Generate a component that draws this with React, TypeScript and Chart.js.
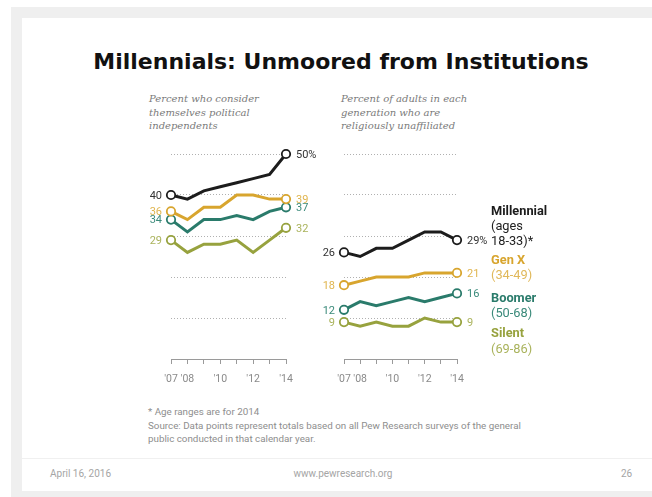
import React, { useEffect, useRef } from "react";
import { Chart, registerables } from "chart.js";

Chart.register(...registerables);

// ---------- data ----------
const YEAR_LABELS = ["'07", "'08", "", "'10", "", "'12", "", "'14"];
const SERIES_NAMES = ["Millennial", "Gen X", "Boomer", "Silent"];

// Percent who consider themselves political independents
const independentsMillennial = [40, 39, 41, 42, 43, 44, 45, 50];
const independentsGenX = [36, 34, 37, 37, 40, 40, 39, 39];
const independentsBoomer = [34, 31, 34, 34, 35, 34, 36, 37];
const independentsSilent = [29, 26, 28, 28, 29, 26, 29, 32];

// Percent of adults in each generation who are religiously unaffiliated
const unaffiliatedMillennial = [26, 25, 27, 27, 29, 31, 31, 29];
const unaffiliatedGenX = [18, 19, 20, 20, 20, 21, 21, 21];
const unaffiliatedBoomer = [12, 14, 13, 14, 15, 14, 15, 16];
const unaffiliatedSilent = [9, 8, 9, 8, 8, 10, 9, 9];

const Y_MIN = 0;
const Y_MAX = 50;
const Y_STEP = 10;

const LINE_COLORS = ["#1c1c1c", "#d8a52e", "#2a7b6b", "#97a23e"];
const LABEL_COLORS = ["#333333", "#e0b54f", "#3a8a7a", "#aab35c"];
const SUB_COLORS = ["#222222", "#e0b85a", "#3a8a7a", "#aab35c"];

// ---------- plugin for end-point labels ----------
const endLabels = {
  id: "endLabels",
  afterDatasetsDraw(chart: any) {
    const ctx = chart.ctx;
    ctx.save();
    ctx.font = "11px Roboto";
    ctx.textBaseline = "middle";
    chart.data.datasets.forEach((ds: any, i: number) => {
      const meta = chart.getDatasetMeta(i);
      const first = meta.data[0];
      const last = meta.data[meta.data.length - 1];
      ctx.fillStyle = LABEL_COLORS[i];
      ctx.textAlign = "right";
      ctx.fillText(String(ds.data[0]), first.x - 9, first.y + 1);
      ctx.textAlign = "left";
      const endText = String(ds.data[ds.data.length - 1]) + (i === 0 ? "%" : "");
      ctx.fillText(endText, last.x + 10, last.y + 1);
    });
    ctx.restore();
  },
};

function makeConfig(series: number[][], padLeft: number, padRight: number): any {
  const n = series[0].length;
  return {
    type: "line",
    data: {
      labels: YEAR_LABELS,
      datasets: series.map((d, i) => ({
        label: SERIES_NAMES[i],
        data: d,
        borderColor: LINE_COLORS[i],
        borderWidth: 3,
        tension: 0,
        clip: false,
        pointRadius: (c: any) => (c.dataIndex === 0 || c.dataIndex === n - 1 ? 4.2 : 0),
        pointHoverRadius: 0,
        pointBackgroundColor: "#ffffff",
        pointBorderColor: LINE_COLORS[i],
        pointBorderWidth: 1.8,
      })),
    },
    options: {
      animation: false,
      responsive: false,
      maintainAspectRatio: false,
      events: [],
      layout: { padding: { left: padLeft, right: padRight, top: 14, bottom: 11 } },
      plugins: { legend: { display: false }, tooltip: { enabled: false } },
      scales: {
        x: {
          type: "category",
          offset: false,
          grid: { drawOnChartArea: false, drawTicks: true, tickLength: 5, color: "#9a9a9a", lineWidth: 1 },
          border: { display: true, color: "#9a9a9a", width: 1 },
          ticks: {
            autoSkip: false,
            maxRotation: 0,
            minRotation: 0,
            padding: 9,
            color: "#8a8a8a",
            font: { family: "Roboto", size: 10.5 },
          },
          afterFit: (s: any) => {
            s.height = 30;
          },
        },
        y: {
          min: Y_MIN,
          max: Y_MAX,
          ticks: { display: false, stepSize: Y_STEP },
          grid: {
            drawTicks: false,
            lineWidth: 1,
            color: (c: any) => (c.tick && c.tick.value === 0 ? "rgba(0,0,0,0)" : "#b0b0b0"),
          },
          border: { display: false, dash: [1, 2] },
          afterFit: (s: any) => {
            s.width = 0;
          },
        },
      },
    },
    plugins: [endLabels],
  };
}

function LineChart(props: { series: number[][]; left: number; top: number; width: number; height: number; padLeft: number; padRight: number }) {
  const ref = useRef<HTMLCanvasElement | null>(null);
  useEffect(() => {
    if (!ref.current) return;
    const chart = new Chart(ref.current, makeConfig(props.series, props.padLeft, props.padRight));
    return () => chart.destroy();
  }, []);
  return (
    <canvas
      ref={ref}
      width={props.width}
      height={props.height}
      style={{ position: "absolute", left: props.left, top: props.top, width: props.width, height: props.height }}
    />
  );
}

function Txt(props: { x: number; y: number; children: any; style?: any; lh?: number; align?: string }) {
  const lh = props.lh ?? 14;
  const base: any = {
    position: "absolute",
    top: props.y - lh / 2,
    lineHeight: lh + "px",
    whiteSpace: "nowrap",
  };
  if (props.align === "center") {
    base.left = props.x - 300;
    base.width = 600;
    base.textAlign = "center";
  } else {
    base.left = props.x;
  }
  return <div style={{ ...base, ...(props.style || {}) }}>{props.children}</div>;
}

export default function App() {
  const subStyle = { fontFamily: "'DejaVu Serif', serif", fontStyle: "italic", fontSize: 10, color: "#7a7a7a" };
  const noteStyle = { fontFamily: "Roboto, sans-serif", fontSize: 9.8, color: "#8e8e8e" };
  const footStyle = { fontFamily: "Roboto, sans-serif", fontSize: 10, color: "#a5a5a5" };
  const legBold = (i: number) => ({ fontFamily: "Roboto, sans-serif", fontSize: 12.8, fontWeight: 700, color: LINE_COLORS[i] });
  const legSub = (i: number) => ({ fontFamily: "Roboto, sans-serif", fontSize: 12.8, color: SUB_COLORS[i] });

  return (
    <div style={{ position: "absolute", left: 0, top: 0, width: 652, height: 497, overflow: "hidden", background: "#ffffff" }}>
      <div style={{ position: "absolute", left: 11, top: 7, width: 700, height: 490, background: "#efefef" }} />
      <div style={{ position: "absolute", left: 22, top: 18, width: 700, height: 473, background: "#ffffff" }} />
      <div style={{ position: "absolute", left: 22, top: 458, width: 700, height: 1, background: "#f0f0f0" }} />

      <div
        style={{
          position: "absolute",
          left: 41,
          width: 600,
          top: 49,
          lineHeight: "26px",
          textAlign: "center",
          fontFamily: "'DejaVu Sans', sans-serif",
          fontWeight: 700,
          fontSize: 22,
          color: "#111111",
          whiteSpace: "nowrap",
        }}
      >
        Millennials: Unmoored from Institutions
      </div>

      <Txt x={149} y={99} style={subStyle}>Percent who consider</Txt>
      <Txt x={149} y={112.5} style={subStyle}>themselves political</Txt>
      <Txt x={149} y={126} style={subStyle}>independents</Txt>

      <Txt x={341} y={99} style={subStyle}>Percent of adults in each</Txt>
      <Txt x={341} y={112.5} style={subStyle}>generation who are</Txt>
      <Txt x={341} y={126} style={subStyle}>religiously unaffiliated</Txt>

      <LineChart
        series={[independentsMillennial, independentsGenX, independentsBoomer, independentsSilent]}
        left={130}
        top={140}
        width={200}
        height={260}
        padLeft={41}
        padRight={44}
      />
      <LineChart
        series={[unaffiliatedMillennial, unaffiliatedGenX, unaffiliatedBoomer, unaffiliatedSilent]}
        left={320}
        top={140}
        width={200}
        height={260}
        padLeft={24}
        padRight={63}
      />

      <Txt x={491} y={210} lh={15} style={legBold(0)}>Millennial</Txt>
      <Txt x={491} y={225} lh={15} style={legSub(0)}>(ages</Txt>
      <Txt x={491} y={240} lh={15} style={legSub(0)}>18-33)*</Txt>
      <Txt x={491} y={259} lh={15} style={legBold(1)}>Gen X</Txt>
      <Txt x={491} y={274} lh={15} style={legSub(1)}>(34-49)</Txt>
      <Txt x={491} y={297} lh={15} style={legBold(2)}>Boomer</Txt>
      <Txt x={491} y={312} lh={15} style={legSub(2)}>(50-68)</Txt>
      <Txt x={491} y={332} lh={15} style={legBold(3)}>Silent</Txt>
      <Txt x={491} y={348} lh={15} style={legSub(3)}>(69-86)</Txt>

      <Txt x={148} y={412} style={noteStyle}>* Age ranges are for 2014</Txt>
      <Txt x={148} y={425.5} style={noteStyle}>
        Source: Data points represent totals based on all Pew Research surveys of the general
      </Txt>
      <Txt x={148} y={439} style={noteStyle}>public conducted in that calendar year.</Txt>

      <Txt x={50} y={474} style={footStyle}>April 16, 2016</Txt>
      <Txt x={343} y={474} align="center" style={footStyle}>www.pewresearch.org</Txt>
      <Txt x={621} y={474} style={footStyle}>26</Txt>
    </div>
  );
}
